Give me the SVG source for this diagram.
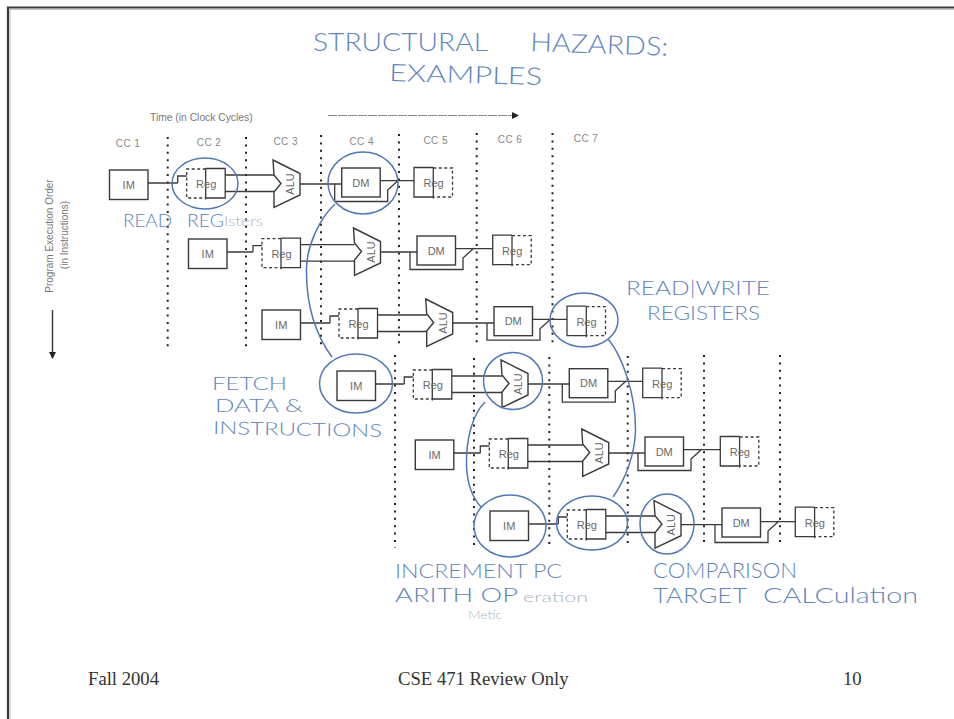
<svg xmlns="http://www.w3.org/2000/svg" width="954" height="719" viewBox="0 0 954 719">
<style>
.ln{fill:none;stroke:#3a3a3a;stroke-width:1.3}
.bx{fill:#fff;stroke:#3a3a3a;stroke-width:1.4}
.ds{fill:none;stroke:#3a3a3a;stroke-width:1.3;stroke-dasharray:3 2.5}
.dot{fill:none;stroke:#222;stroke-width:2;stroke-dasharray:2 5.4}
.ring{fill:none;stroke:#4f78b4;stroke-width:1.5}
.t{font-family:"Liberation Sans",Arial,sans-serif;font-size:11px;fill:#6a6a6a;text-anchor:middle}
.cc{font-family:"Liberation Sans",Arial,sans-serif;font-size:10px;letter-spacing:.4px;fill:#888;text-anchor:middle}
.h{font-family:"Lato","Liberation Sans",sans-serif;font-weight:300;fill:#5f85be}
.g{font-family:"Lato","Liberation Sans",sans-serif;font-weight:300;fill:#a9b4c4}
.f{font-family:"Liberation Serif","Times New Roman",serif;font-size:18.67px;fill:#333}
.s{font-family:"Liberation Sans",Arial,sans-serif;fill:#777}
</style>
<defs>
<g id="s-im"><rect class="bx" width="38.5" height="29.5"/><text class="t" x="19.2" y="19">IM</text></g>
<g id="s-rr"><path class="ds" d="M19,0H0V29H19"/><path class="ln" d="M19,-.5H38.5V29H19M19,-.5V30.5"/><text class="t" x="19.5" y="19">Reg</text></g>
<g id="s-rw"><path class="ds" d="M19.3,0H38.5V29H19.3"/><path class="ln" d="M19.3,-.5H0V29H19.3M19.3,-.5V30.5"/><text class="t" x="19.5" y="19">Reg</text></g>
<g id="s-alu"><path class="bx" d="M0,0L27,13.5V35L1,47.5V32L8,23.5L1,15Z"/><text class="t" transform="translate(21,24) rotate(-90)">ALU</text></g>
<g id="s-dm"><rect class="bx" width="38.5" height="29"/><text class="t" x="19.2" y="18.5">DM</text></g>
<marker id="ah" markerWidth="8" markerHeight="8" refX="6" refY="3.5" orient="auto" markerUnits="userSpaceOnUse"><path d="M0,0L7,3.5L0,7Z" fill="#222"/></marker>
</defs>
<rect width="954" height="719" fill="#fff"/>
<path d="M954,7.5H8V719" fill="none" stroke="#3a3a3a" stroke-width="2.2"/>
<path d="M954,9.4H9.9V719" fill="none" stroke="#bbb" stroke-width="1"/>

<g id="grid">
<path class="dot" d="M167.7,137V350M246,137V350M321,135V345M399,134V345M476.7,133V345M552.5,133V345M395,355V548M474,358V548M549.3,357V547M627.7,356V546M704,355V547M780,355V545"/>
</g>

<g id="labels">
<text class="s" font-size="10.3" x="150" y="121">Time (in Clock Cycles)</text>
<path d="M328,115.5H518" stroke="#888" stroke-width="1" stroke-dasharray="9 1" marker-end="url(#ah)" fill="none"/>
<text class="cc" x="128" y="147">CC 1</text>
<text class="cc" x="209" y="146">CC 2</text>
<text class="cc" x="285.7" y="145">CC 3</text>
<text class="cc" x="361.7" y="145">CC 4</text>
<text class="cc" x="435.7" y="144">CC 5</text>
<text class="cc" x="510" y="143">CC 6</text>
<text class="cc" x="586" y="142">CC 7</text>
<text class="s" font-size="10" text-anchor="middle" transform="translate(53,236) rotate(-90)">Program Execution Order</text>
<text class="s" font-size="10" text-anchor="middle" transform="translate(68,235) rotate(-90)">(in Instructions)</text>
<path d="M52.5,310V358" stroke="#333" stroke-width="1.4" marker-end="url(#ah)" fill="none"/>
</g>

<g id="connectors">
<path class="ln" d="M148,183H177.7M186.7,176H177.7V183M225.2,175H274M225.2,191.5H274M300,184H341.7M334.7,184V201.5H387.7V190L398.7,180M380.2,180.7H414"/>
<path class="ln" d="M227,252H253M262,245.7H253V252M300.5,244.7H354.5M300.5,261.2H354.5M380.5,252H417M410,252V269.5H463V258L474,248M455.5,248.7H492.7"/>
<path class="ln" d="M300.5,323H330M339,316H330V323M377.5,315H426.7M377.5,331.5H426.7M452.7,323H494M487,323V340.2H540V328.7L551,318.7M532.5,319.4H567"/>
<path class="ln" d="M375.5,384H404.3M413.3,377H404.3V384M451.8,376H502M451.8,392.5H502M528,384H569.3M562.3,384V402.2H615.3V390.7L626.3,380.7M607.8,381.4H642.7"/>
<path class="ln" d="M453.8,453H480.3M489.3,446H480.3V453M527.8,445H582.7M527.8,461.5H582.7M608.7,453H645M638,453V470.5H691V459L702,449M683.5,449.7H720.3"/>
<path class="ln" d="M528.5,524H558.3M567.3,517H558.3V524M605.8,516H655M605.8,532.5H655M680.7,524.7H722M715,524.7V542.5H768V531L779,521M760.5,521.7H795.3"/>
</g>

<g id="row1">
<g id="im1" transform="translate(109.5,170)"><use href="#s-im"/></g>
<g id="rr1" transform="translate(186.7,169)"><use href="#s-rr"/></g>
<g id="alu1" transform="translate(273,160)"><use href="#s-alu"/></g>
<g id="dm1" transform="translate(341.7,168)"><use href="#s-dm"/></g>
<g id="rw1" transform="translate(414,168)"><use href="#s-rw"/></g>
</g>
<g id="row2">
<g id="im2" transform="translate(188.5,239)"><use href="#s-im"/></g>
<g id="rr2" transform="translate(262,238.7)"><use href="#s-rr"/></g>
<g id="alu2" transform="translate(353.5,228)"><use href="#s-alu"/></g>
<g id="dm2" transform="translate(417,236)"><use href="#s-dm"/></g>
<g id="rw2" transform="translate(492.7,235.7)"><use href="#s-rw"/></g>
</g>
<g id="row3">
<g id="im3" transform="translate(262,310)"><use href="#s-im"/></g>
<g id="rr3" transform="translate(339,309)"><use href="#s-rr"/></g>
<g id="alu3" transform="translate(425.7,299)"><use href="#s-alu"/></g>
<g id="dm3" transform="translate(494,306.7)"><use href="#s-dm"/></g>
<g id="rw3" transform="translate(567,306.7)"><use href="#s-rw"/></g>
</g>
<g id="row4">
<g id="im4" transform="translate(337,371)"><use href="#s-im"/></g>
<g id="rr4" transform="translate(413.3,370)"><use href="#s-rr"/></g>
<g id="alu4" transform="translate(501,360)"><use href="#s-alu"/></g>
<g id="dm4" transform="translate(569.3,368.7)"><use href="#s-dm"/></g>
<g id="rw4" transform="translate(642.7,368.7)"><use href="#s-rw"/></g>
</g>
<g id="row5">
<g id="im5" transform="translate(415.3,440)"><use href="#s-im"/></g>
<g id="rr5" transform="translate(489.3,439)"><use href="#s-rr"/></g>
<g id="alu5" transform="translate(581.7,429)"><use href="#s-alu"/></g>
<g id="dm5" transform="translate(645,437)"><use href="#s-dm"/></g>
<g id="rw5" transform="translate(720.3,437)"><use href="#s-rw"/></g>
</g>
<g id="row6">
<g id="im6" transform="translate(490,511)"><use href="#s-im"/></g>
<g id="rr6" transform="translate(567.3,510)"><use href="#s-rr"/></g>
<g id="alu6" transform="translate(654,500.7)"><use href="#s-alu"/></g>
<g id="dm6" transform="translate(722,508)"><use href="#s-dm"/></g>
<g id="rw6" transform="translate(795.3,507.7)"><use href="#s-rw"/></g>
</g>

<g id="annotations">
<ellipse class="ring" cx="205" cy="183.5" rx="33" ry="25.5"/>
<ellipse class="ring" cx="363" cy="183" rx="35" ry="31"/>
<ellipse class="ring" cx="584" cy="320" rx="34" ry="27"/>
<ellipse class="ring" cx="356" cy="383.5" rx="36.5" ry="29.5"/>
<ellipse class="ring" cx="513" cy="381" rx="29.5" ry="28.5"/>
<ellipse class="ring" cx="510" cy="526" rx="36" ry="31"/>
<ellipse class="ring" cx="592" cy="523" rx="35.5" ry="27"/>
<ellipse class="ring" cx="667" cy="524" rx="27" ry="30"/>
<path class="ring" d="M335,204C320,218 307,245 306.5,268C306,300 312,330 332,357"/>
<path class="ring" d="M485,402C472,415 466,440 466.5,465C467,482 472,497 481,507"/>
<path class="ring" d="M608,339C622,355 636,395 635.5,430C635,455 625,480 613,497"/>
</g>

<g id="handwriting">
<text class="h" font-size="26" x="313" y="51" textLength="175" lengthAdjust="spacingAndGlyphs">STRUCTURAL</text>
<text class="h" font-size="26" x="530" y="51" textLength="138" lengthAdjust="spacingAndGlyphs" transform="rotate(2 530 51)">HAZARDS:</text>
<text class="h" font-size="24" x="389" y="81" textLength="153" lengthAdjust="spacingAndGlyphs" transform="rotate(1.5 389 81)">EXAMPLES</text>
<text class="h" font-size="18" x="123" y="227" textLength="49" lengthAdjust="spacingAndGlyphs">READ</text>
<text class="h" font-size="18" x="187" y="227" textLength="37" lengthAdjust="spacingAndGlyphs">REG</text>
<text class="g" font-size="14" x="224" y="226" textLength="39" lengthAdjust="spacingAndGlyphs">Isters</text>
<text class="h" font-size="20" x="626" y="295" textLength="144" lengthAdjust="spacingAndGlyphs">READ|WRITE</text>
<text class="h" font-size="20" x="647" y="320" textLength="113" lengthAdjust="spacingAndGlyphs">REGISTERS</text>
<text class="h" font-size="18" x="212" y="390" textLength="75" lengthAdjust="spacingAndGlyphs">FETCH</text>
<text class="h" font-size="18" x="215" y="412" textLength="88" lengthAdjust="spacingAndGlyphs">DATA &amp;</text>
<text class="h" font-size="18" x="213" y="434" textLength="169" lengthAdjust="spacingAndGlyphs" transform="rotate(1 213 434)">INSTRUCTIONS</text>
<text class="h" font-size="19" x="395" y="578" textLength="167" lengthAdjust="spacingAndGlyphs">INCREMENT PC</text>
<text class="h" font-size="20" x="395" y="602" textLength="123" lengthAdjust="spacingAndGlyphs">ARITH OP</text>
<text class="g" font-size="14" x="523" y="602" textLength="65" lengthAdjust="spacingAndGlyphs">eration</text>
<text class="g" font-size="11" x="468" y="619" textLength="34" lengthAdjust="spacingAndGlyphs">Metic</text>
<text class="h" font-size="21" x="653" y="578" textLength="144" lengthAdjust="spacingAndGlyphs">COMPARISON</text>
<text class="h" font-size="21" x="653" y="603" textLength="94" lengthAdjust="spacingAndGlyphs">TARGET</text>
<text class="h" font-size="21" x="763" y="603" textLength="155" lengthAdjust="spacingAndGlyphs">CALCulation</text>
</g>

<g id="footer">
<text class="f" x="88" y="685">Fall 2004</text>
<text class="f" x="398" y="685">CSE 471 Review Only</text>
<text class="f" x="843" y="685">10</text>
</g>
</svg>
